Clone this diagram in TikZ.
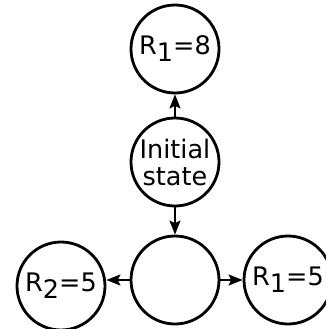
\documentclass[tikz,border=0pt]{standalone}
\usepackage{fontspec}
\setmainfont{DejaVu Sans}
\usetikzlibrary{arrows.meta}
\newcommand{\sbx}[1]{\raisebox{-7pt}{#1}}
\begin{document}
\begin{tikzpicture}[x=1pt,y=-1pt,
  statenode/.style={circle,draw,line width=2.8pt,minimum size=88pt,inner sep=0pt,
    font=\fontsize{25.5}{27}\selectfont,align=center},
  conn/.style={line width=1.6pt,-{Stealth[length=14pt,width=11pt,inset=2.5pt]}}]
\useasboundingbox (0,0) rectangle (326,329);
\node[statenode] (top) at (175,49) {R\sbx{1}=8};
\node[statenode] (init) at (175,162) {Initial\\state};
\node[statenode] (mid) at (175,280) {};
\node[statenode] (left) at (61,286) {R\sbx{2}=5};
\node[statenode] (right) at (288,280) {R\sbx{1}=5};
\draw[conn] (init) -- (top);
\draw[conn] (init) -- (mid);
\draw[conn] (mid.west) -- (mid.west -| left.east);
\draw[conn] (mid) -- (right);
\end{tikzpicture}
\end{document}
